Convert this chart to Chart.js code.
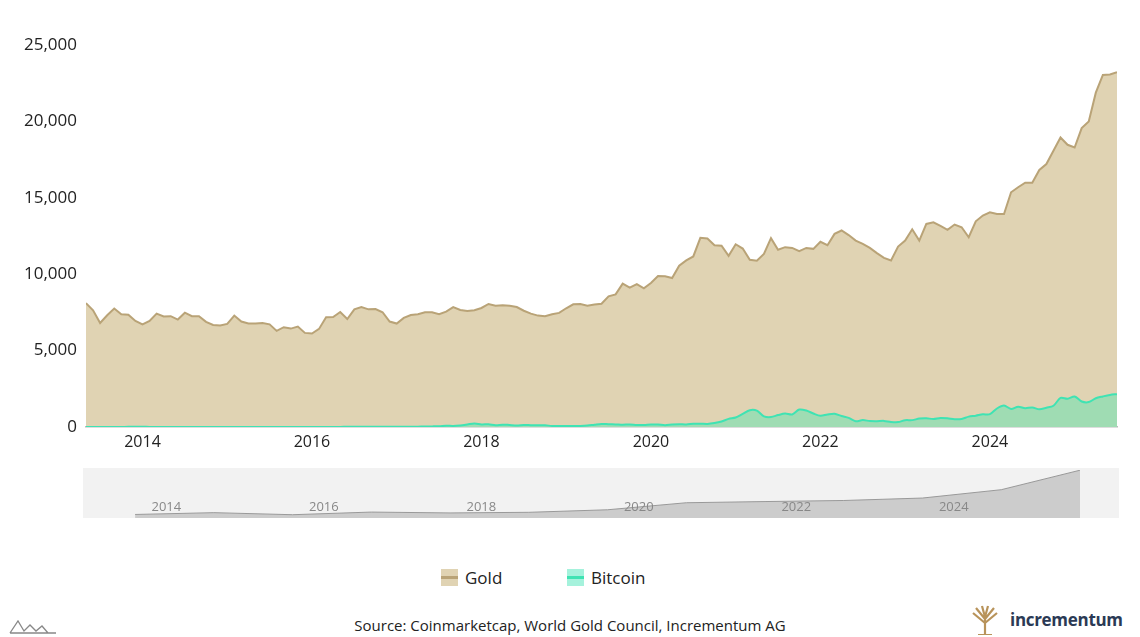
<!DOCTYPE html>
<html><head><meta charset="utf-8">
<script src="https://cdn.jsdelivr.net/npm/chart.js@4"></script>
<style>
body{margin:0;width:1140px;height:637px;background:#fff;font-family:"Open Sans",sans-serif;position:relative;overflow:hidden}
#main{position:absolute;left:0;top:0;width:1125px;height:460px}
#navbg{position:absolute;left:83px;top:468px;width:1036px;height:50px;background:#f2f2f2}
#nav{position:absolute;left:83px;top:468px;width:1036px;height:50px}
.leg{position:absolute;top:566px;font-size:17px;color:#222;display:flex;align-items:center}
.sw{width:17px;height:17px;margin-right:7px;position:relative}
.sw i{position:absolute;left:0;right:0;top:7px;height:3px}
#src{position:absolute;top:615px;left:0;width:1140px;text-align:center;font-size:15px;color:#222}
#logo{position:absolute;left:1010px;top:608px;font-size:17px;font-weight:bold;color:#2b3a55;letter-spacing:-0.3px}
</style></head><body>
<div id="main"><canvas id="c1"></canvas></div>
<div id="navbg"></div>
<div id="nav"><canvas id="c2"></canvas></div>
<div class="leg" style="left:441px"><div class="sw" style="background:#e0d3b3"><i style="background:#b9a377"></i></div>Gold</div>
<div class="leg" style="left:567px"><div class="sw" style="background:#a5f2dc"><i style="background:#3fe3b3"></i></div>Bitcoin</div>
<div id="src">Source: Coinmarketcap, World Gold Council, Incrementum AG</div>
<svg style="position:absolute;left:8px;top:617px" width="50" height="18"><path d="M2 16 L10 4 L16 14 L22 8 L28 14 L34 9 L40 16 M2 16 L48 16" stroke="#888" fill="none" stroke-width="1.3"/></svg>
<svg style="position:absolute;left:970px;top:605px" width="30" height="30"><path d="M15 30 V12 M15 14 L6 3 M15 14 L24 3 M15 18 L3 8 M15 18 L27 8 M15 12 L12 1 M15 12 L18 1 M8 30 H22" stroke="#b8935a" stroke-width="2.2" fill="none"/></svg>
<div id="logo">incrementum</div>
<script>
const startYear = 2013, startMonth = 5; // May 2013, monthly
const gold = [
8110,7640,6810,7310,7750,7380,7350,6940,
6720,6940,7420,7230,7250,7030,7480,7250,7250,6880,6680,6640,
6750,7290,6900,6770,6770,6810,6720,6290,6530,6440,6570,6160,
6120,6420,7180,7200,7530,7070,7700,7850,7700,7720,7510,6900,
6770,7140,7330,7380,7510,7510,7380,7550,7850,7660,7590,7640,
7790,8050,7940,7960,7940,7850,7610,7420,7290,7250,7380,7470,
7770,8030,8050,7940,8010,8070,8550,8680,9380,9120,9350,9070,
9420,9880,9860,9750,10550,10900,11160,12380,12340,11900,11860,11200,
11960,11680,10940,10880,11330,12360,11600,11770,11720,11510,11720,11660,
12120,11900,12640,12860,12560,12200,11990,11720,11380,11070,10900,11810,
12200,12940,12200,13290,13400,13160,12900,13250,13070,12420,13460,13840,
14050,13940,13940,15360,15690,15990,15990,16820,17210,18080,18950,18470,
18290,19560,19990,21880,23040,23070,23220];
const bitcoin = [
1,1,1,1,2,3,13,9,
10,7,6,5,6,8,8,7,5,4,5,4,
3,4,3,3,3,4,4,3,3,4,5,6,
6,6,6,7,8,11,10,9,10,11,12,16,
16,20,17,22,37,40,47,78,70,105,165,230,
170,175,115,155,130,105,130,120,115,110,70,65,
60,70,72,95,150,200,180,170,150,165,135,130,
170,160,120,160,175,170,205,215,200,255,360,530,
620,860,1100,1070,700,650,780,880,820,1140,1080,880,
730,820,870,720,600,380,450,390,380,400,330,320,
445,450,550,570,525,590,570,510,530,680,740,830,
840,1210,1400,1180,1330,1230,1280,1160,1260,1390,1900,1850,
2000,1670,1630,1880,2000,2100,2150];
const yTicks = [0,5000,10000,15000,20000,25000];
const xTickYears = [2014,2016,2018,2020,2022,2024];

const toX = i => startYear + (startMonth - 1 + i) / 12;
const goldPts = gold.map((v,i)=>({x:toX(i),y:v}));
const btcPts = bitcoin.map((v,i)=>({x:toX(i),y:v}));
// navigator shows a coarse (yearly) sample of the gold series
const navPts = goldPts.filter((p,i)=> i%12===2 || i===gold.length-1);
const xMin = toX(0), xMax = toX(gold.length-1);
const fmt = v => v.toLocaleString('en-US');
Chart.defaults.font.family = '"Open Sans", sans-serif';

new Chart(document.getElementById('c1'), {
  type:'line',
  data:{datasets:[
    {label:'Bitcoin',data:btcPts,borderColor:'#3fe3b3',backgroundColor:'rgba(80,230,180,0.45)',fill:'origin',borderWidth:2,pointRadius:0,tension:0.3,order:0},
    {label:'Gold',data:goldPts,borderColor:'#b9a377',backgroundColor:'#e0d3b3',fill:'origin',borderWidth:2,pointRadius:0,tension:0,order:1}
  ]},
  options:{responsive:true,maintainAspectRatio:false,animation:false,
    layout:{padding:{top:45,right:8}},
    plugins:{legend:{display:false},tooltip:{enabled:false}},
    scales:{
      x:{type:'linear',min:xMin,max:xMax,
        grid:{display:false,drawTicks:false},border:{display:true,color:'#bbb',width:1.5},
        afterBuildTicks:s=>{s.ticks=xTickYears.map(v=>({value:v}));},
        afterFit:s=>{s.height=33;},
        ticks:{autoSkip:false,maxRotation:0,color:'#222',font:{size:16},padding:6,callback:v=>String(v)}},
      y:{min:0,max:25000,
        grid:{display:false,drawTicks:false},border:{display:false},
        afterBuildTicks:s=>{s.ticks=yTicks.map(v=>({value:v}));},
        afterFit:s=>{s.width=86;},
        ticks:{color:'#222',font:{size:17},padding:9,callback:v=>fmt(v)}}
    }}
});

const navLabels = {id:'navLabels',afterDraw(c){
  const ctx=c.ctx, xs=c.scales.x;
  ctx.save();ctx.fillStyle='#888';ctx.font='13px "Open Sans", sans-serif';ctx.textAlign='left';ctx.textBaseline='middle';
  xTickYears.forEach(y=>{ctx.fillText(String(y),xs.getPixelForValue(y)-23,39);});
  ctx.restore();}};
new Chart(document.getElementById('c2'), {
  type:'line',
  data:{datasets:[{data:navPts,borderColor:'#999',backgroundColor:'#cccccc',fill:'origin',borderWidth:1,pointRadius:0,tension:0}]},
  plugins:[navLabels],
  options:{responsive:true,maintainAspectRatio:false,animation:false,
    layout:{padding:{left:39,right:39,top:2,bottom:0}},
    plugins:{legend:{display:false},tooltip:{enabled:false}},
    scales:{x:{type:'linear',min:xMin,max:xMax,display:false},
            y:{min:5500,max:23300,display:false}}}
});
</script>
</body></html>
